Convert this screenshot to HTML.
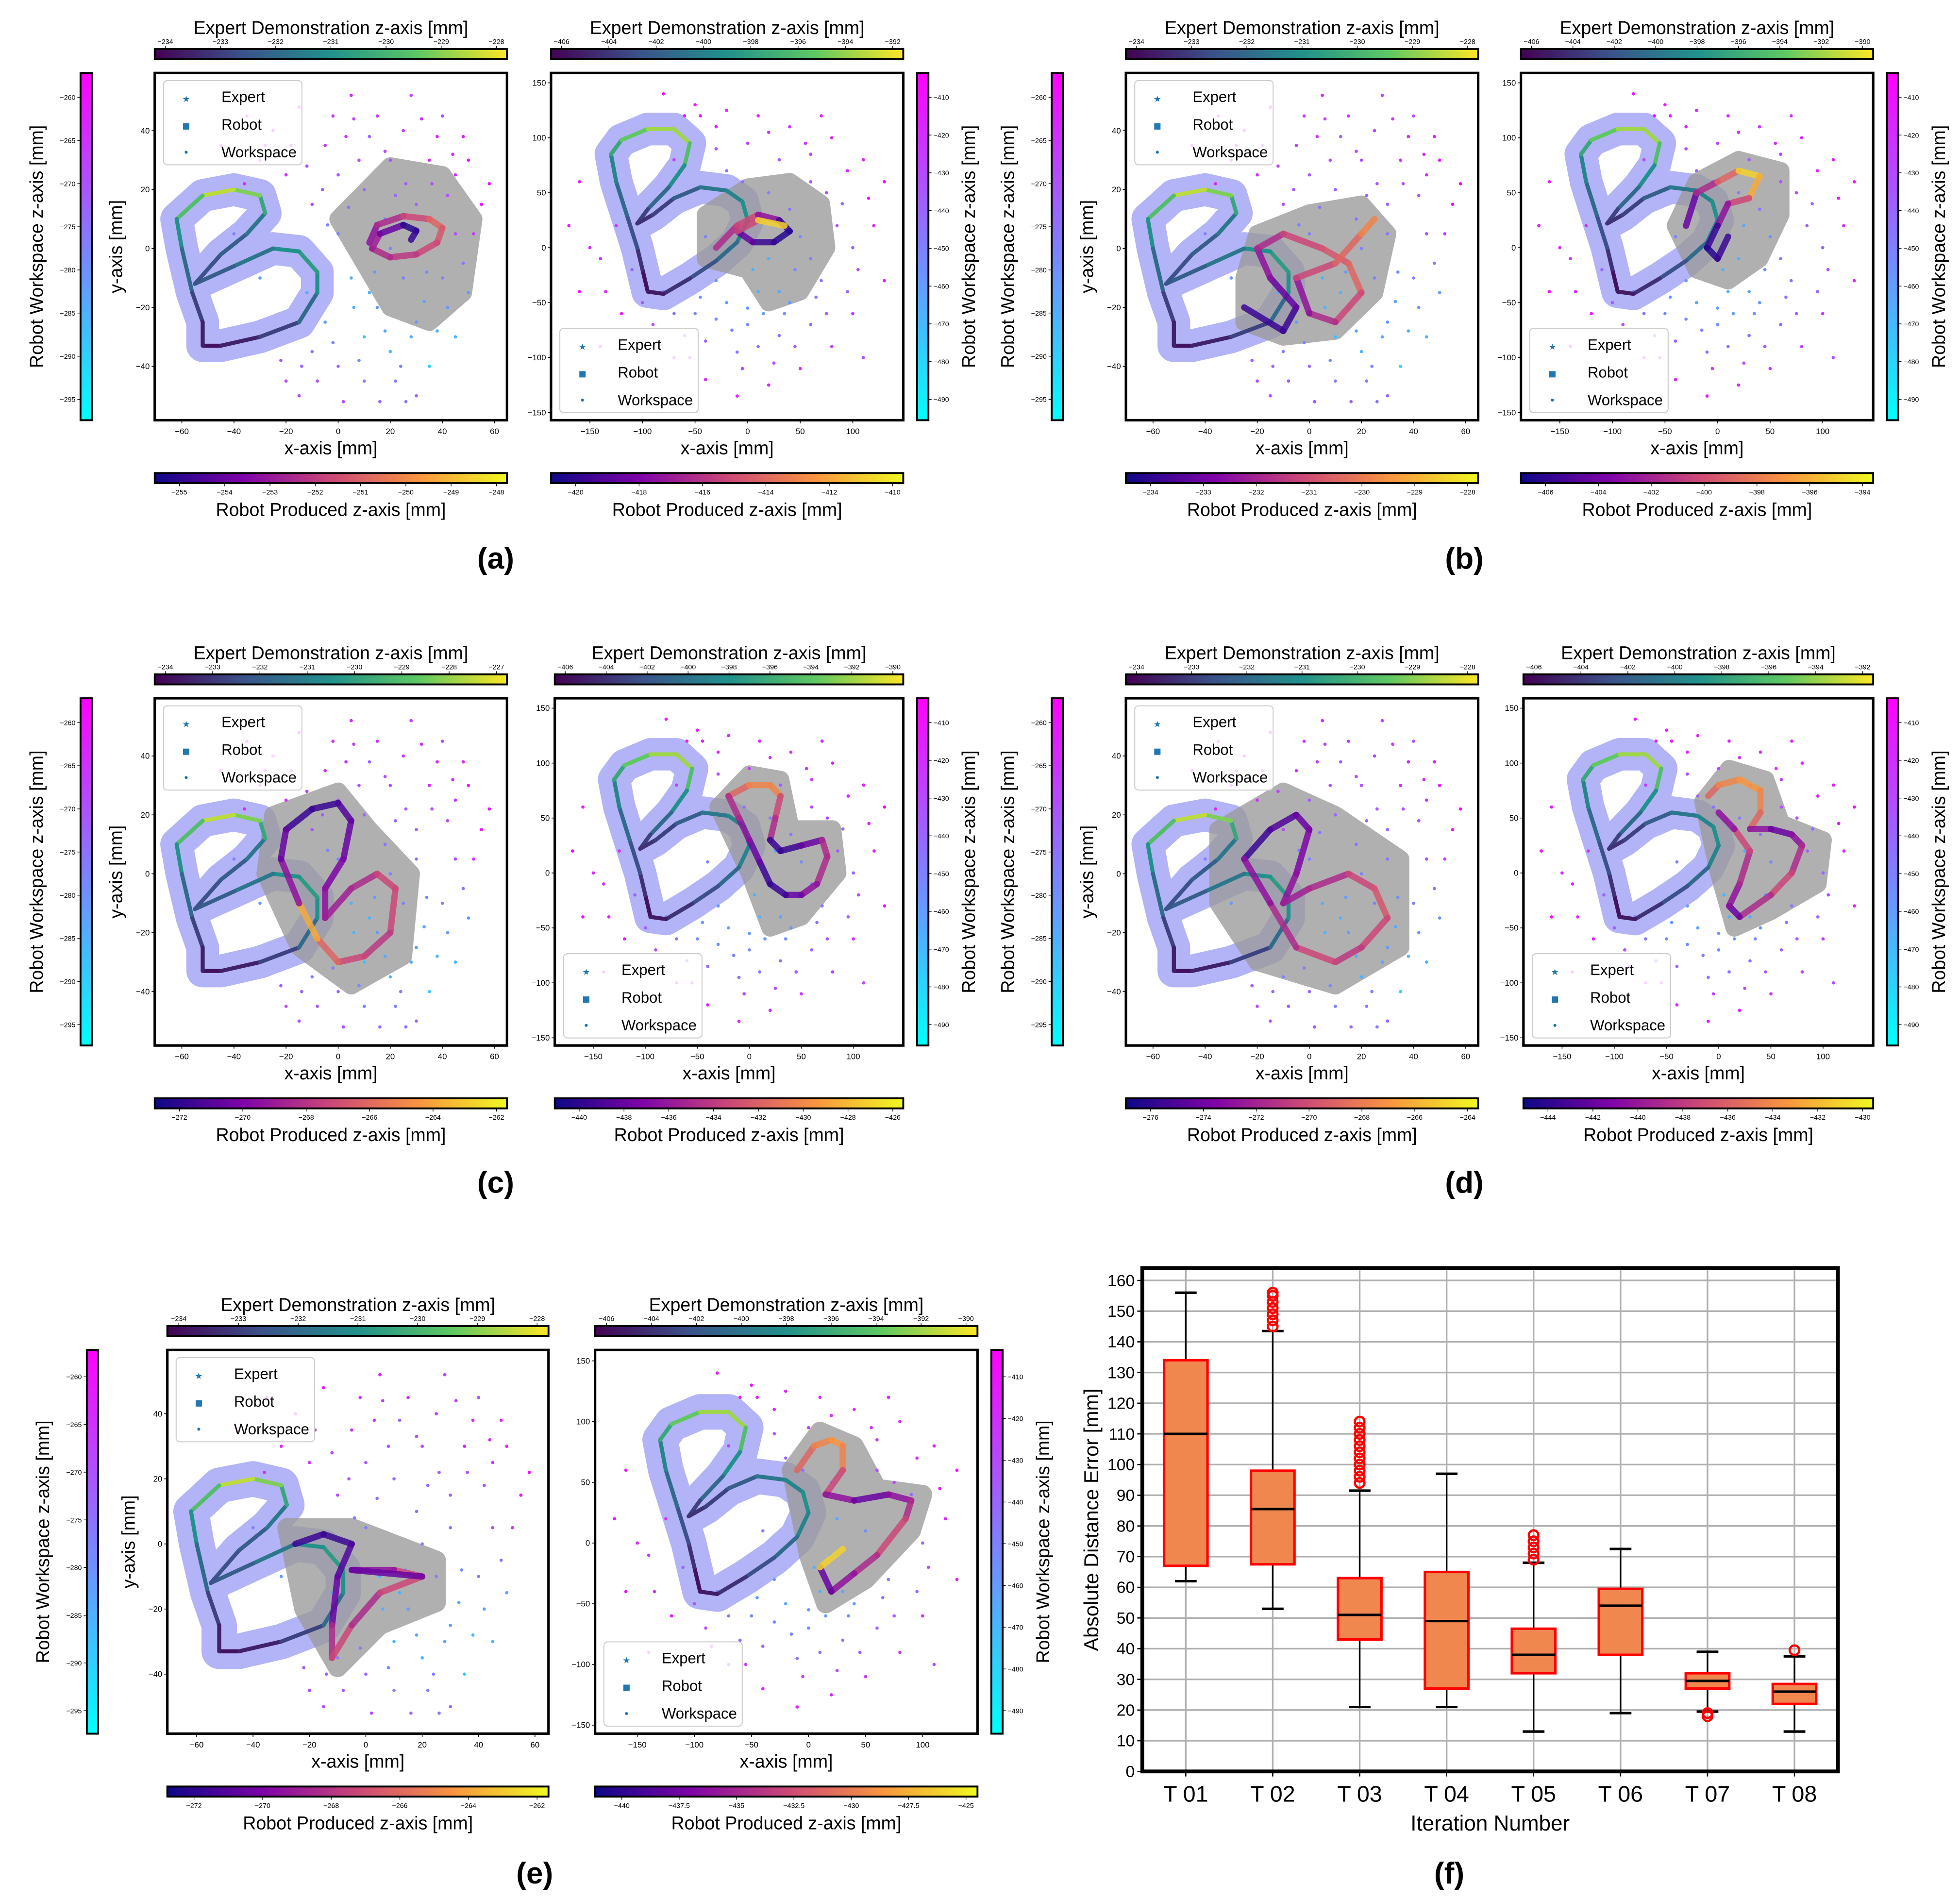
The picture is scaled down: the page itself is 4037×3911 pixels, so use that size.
<!DOCTYPE html>
<html><head><meta charset="utf-8"><style>
html,body{margin:0;padding:0;background:#fff}
svg{display:block}
text{font-family:"Liberation Sans",sans-serif}
</style></head><body>
<svg id="fig" xmlns="http://www.w3.org/2000/svg" width="4037" height="3911" viewBox="0 0 1558 1509.4">
<defs>
<linearGradient id="viridis" x1="0" x2="1" y1="0" y2="0"><stop offset="0" stop-color="#440154"/><stop offset="0.25" stop-color="#3b528b"/><stop offset="0.5" stop-color="#21918c"/><stop offset="0.75" stop-color="#5ec962"/><stop offset="1" stop-color="#fde725"/></linearGradient>
<linearGradient id="plasma" x1="0" x2="1" y1="0" y2="0"><stop offset="0" stop-color="#0d0887"/><stop offset="0.25" stop-color="#7e03a8"/><stop offset="0.5" stop-color="#cc4778"/><stop offset="0.75" stop-color="#f89540"/><stop offset="1" stop-color="#f0f921"/></linearGradient>
<linearGradient id="cool" x1="0" x2="0" y1="1" y2="0"><stop offset="0" stop-color="#00ffff"/><stop offset="1" stop-color="#ff00ff"/></linearGradient>
</defs>
</svg>
<script>
// ---------- chart data ----------
const boxCategories = ["T 01","T 02","T 03","T 04","T 05","T 06","T 07","T 08"];
const boxWhiskerLow = [62,53,21,21,13,19,19.5,13];
const boxQ1 = [67,67.5,43,27,32,38,27,22];
const boxMedian = [110,85.5,51,49,38,54,29.5,26];
const boxQ3 = [134,98,63,65,46.5,59.5,32,28.5];
const boxWhiskerHigh = [156,143.5,91.5,97,68,72.5,39,37.5];
const boxOutliers = [[],[145,147,149,151,153,155,156],[94,96,98,100,102,104,106,108,110,112,114],[],[69,71,73,75,77],[],[18,19],[39.5]];
const boxYTicks = [0,10,20,30,40,50,60,70,80,90,100,110,120,130,140,150,160];

const expertLeft = [[-52,-33,0.05],[-45,-33,0.1],[-30,-30,0.2],[-15,-25,0.35],[-8,-15,0.5],[-8,-8,0.55],[-15,-1,0.5],[-25,0,0.4],[-40,-6,0.3],[-55,-12,0.25],[-45,-2,0.3],[-35,5,0.4],[-28,12,0.6],[-30,18,0.8],[-40,20,0.9],[-52,18,0.7],[-62,10,0.5],[-60,0,0.35],[-56,-15,0.2],[-52,-25,0.1],[-52,-33,0.05]];
const expertRight = [[-95,-40,0.05],[-100,-20,0.15],[-105,0,0.25],[-115,30,0.35],[-125,60,0.45],[-130,85,0.6],[-120,98,0.75],[-95,108,0.85],[-70,108,0.85],[-55,95,0.7],[-60,75,0.5],[-75,55,0.35],[-95,35,0.2],[-105,22,0.15],[-90,30,0.2],[-70,45,0.3],[-45,55,0.4],[-20,52,0.45],[-5,42,0.5],[0,25,0.45],[-10,5,0.35],[-30,-12,0.25],[-55,-28,0.15],[-80,-42,0.08],[-95,-40,0.05]];

const wsLeft = [[-35,45,.9],[-25,40,.85],[-15,48,.9],[-5,35,.8],[5,52,.85],[15,45,.8],[25,40,.75],[35,30,.85],[45,25,.8],[55,15,.95],[50,30,.9],[40,45,.7],[20,30,.7],[10,20,.6],[0,25,.65],[-10,15,.7],[-20,25,.8],[-30,30,.9],[30,15,.6],[45,5,.7],[40,-10,.5],[30,-25,.4],[20,-35,.3],[10,-45,.5],[0,-40,.6],[-10,-35,.5],[-20,-45,.7],[15,-20,.4],[25,-10,.5],[5,-10,.3],[-5,-25,.4],[35,-40,.2],[45,-30,.3],[-30,-10,.4],[-40,5,.5],[-45,35,.9],[0,5,.5],[20,0,.5],[10,-30,.25],[30,-50,.6],[50,-15,.4],[-15,-50,.7],[-25,0,.45],[12,38,.6],[28,52,.75],[8,30,.7],[18,10,.55],[-8,-45,.65],[22,-45,.5],[38,38,.85],[52,5,.8],[-2,45,.8],[33,-18,.35],[-18,35,.75],[6,-20,.3],[26,22,.65],[42,18,.7],[-12,-15,.35],[16,-52,.6],[2,-52,.7],
 [-28,35,.85],[-12,28,.75],[3,38,.8],[18,33,.7],[32,44,.8],[48,38,.9],[22,18,.6],[36,22,.7],[4,14,.55],[-6,20,.65],[14,-8,.4],[28,-30,.35],[38,-28,.3],[-2,-32,.5],[8,-38,.45],[18,-28,.35],[-14,-40,.6],[24,-40,.5],[42,-20,.4],[48,-5,.55],[-36,22,.85],[30,5,.55],[12,-15,.3],[-22,-38,.65],[6,44,.75],[34,-8,.45],[-4,8,.5],[26,-52,.55],[44,32,.85],[58,22,.95]];
const wsRight = [[-80,140,.95],[-50,130,.9],[-20,125,.85],[10,120,.85],[40,110,.8],[80,100,.85],[110,80,.9],[130,60,.95],[120,20,.85],[130,-30,.9],[100,-60,.8],[80,-90,.75],[50,-110,.8],[20,-125,.85],[-10,-135,.9],[-40,-120,.85],[-70,-100,.8],[-120,-60,.9],[-160,-40,.95],[-170,20,.95],[-160,60,.9],[-30,90,.7],[0,95,.75],[30,80,.65],[60,60,.7],[90,40,.6],[100,0,.6],[70,-30,.55],[40,-50,.4],[10,-40,.3],[-20,-50,.35],[-50,-60,.45],[-80,-40,.5],[-110,-20,.6],[-140,-10,.8],[-20,70,.6],[20,50,.5],[50,10,.45],[20,-10,.3],[-30,-30,.4],[0,-70,.45],[30,-80,.55],[60,-70,.6],[-60,-80,.6],[-90,-70,.7],[-40,10,.5],[-70,80,.75],[110,-100,.7],[-140,-90,.9],[70,120,.85],[-10,-95,.55],[15,-60,.4],[45,-20,.45],[85,20,.65],[-100,-50,.65],[-5,60,.55],[25,20,.35],[-55,-100,.75],[95,-40,.6],[-125,20,.8],
 [-60,120,.9],[-30,110,.85],[20,105,.8],[55,95,.8],[95,70,.85],[115,45,.9],[75,50,.7],[40,35,.55],[60,-10,.5],[30,-40,.35],[0,-55,.4],[-15,-75,.5],[-40,-85,.6],[10,-90,.55],[45,-90,.65],[75,-60,.65],[-70,-60,.55],[-30,-65,.45],[5,-20,.3],[35,-60,.45],[-45,-45,.4],[65,-45,.55],[-150,0,.85],[-135,-40,.85],[105,-20,.7],[-5,-110,.75],[25,-105,.7],[-85,-85,.75],[60,85,.75],[-45,120,.9]];

const panels = [
 {id:"a-left",kind:"L",x0:123,y0:58,x1:403,y1:334,cb:64,top:[-234,-233,-232,-231,-230,-229,-228],bot:[-255,-254,-253,-252,-251,-250,-249,-248],vert:[-260,-265,-270,-275,-280,-285,-290,-295],
  robot:[[12,2,.3],[15,8,.4],[25,11,.5],[35,10,.6],[40,7,.55],[38,2,.5],[30,-2,.45],[20,-3,.4],[13,0,.35],[16,5,.2],[25,8,.05],[30,6,.1],[28,3,.9]],blob:[[0,10],[20,28],[40,25],[52,10],[48,-15],[35,-25],[20,-20],[10,-5],[0,10]],legend:"top"},
 {id:"a-right",kind:"R",x0:438,y0:58,x1:718,y1:334,cb:729,top:[-406,-404,-402,-400,-398,-396,-394,-392],bot:[-420,-418,-416,-414,-412,-410],vert:[-410,-420,-430,-440,-450,-460,-470,-480,-490],
  robot:[[-30,0,.4],[-10,20,.5],[10,30,.3],[30,25,.1],[40,15,.05],[25,5,.1],[5,5,.2],[-10,15,.5],[10,25,.9],[35,20,.8]],blob:[[-40,-10],[-40,30],[0,55],[40,60],[70,40],[75,0],[50,-40],[20,-50],[0,-20],[-40,-10]],legend:"bottom"},
 {id:"b-left",kind:"L",x0:895,y0:58,x1:1175,y1:334,cb:836,top:[-234,-233,-232,-231,-230,-229,-228],bot:[-234,-233,-232,-231,-230,-229,-228],vert:[-260,-265,-270,-275,-280,-285,-290,-295],
  robot:[[-25,-20,.1],[-10,-28,.1],[-5,-20,.2],[-15,-10,.3],[-20,0,.4],[-10,5,.5],[5,0,.55],[15,-5,.6],[20,-15,.5],[10,-25,.4],[0,-22,.3],[-5,-10,.5],[10,-5,.6],[20,5,.7],[25,10,.9]],blob:[[-25,-25],[-10,-30],[10,-28],[25,-15],[30,5],[20,15],[0,12],[-20,5],[-25,-10]],legend:"top"},
 {id:"b-right",kind:"R",x0:1209,y0:58,x1:1489,y1:334,cb:1500,top:[-406,-404,-402,-400,-398,-396,-394,-392,-390],bot:[-406,-404,-402,-400,-398,-396,-394],vert:[-410,-420,-430,-440,-450,-460,-470,-480,-490],
  robot:[[-30,20,.2],[-20,50,.4],[0,60,.6],[20,70,.9],[40,65,.8],[30,45,.5],[10,40,.3],[0,20,.1],[-10,0,.05],[0,-10,.1],[10,10,.3]],blob:[[-40,20],[-20,60],[20,80],[60,70],[60,30],[40,-10],[10,-30],[-20,-20],[-40,20]],legend:"bottom"},
 {id:"c-left",kind:"L",x0:123,y0:555,x1:403,y1:831,cb:64,top:[-234,-233,-232,-231,-230,-229,-228,-227],bot:[-272,-270,-268,-266,-264,-262],vert:[-260,-265,-270,-275,-280,-285,-290,-295],
  robot:[[-20,15,.1],[-10,22,.1],[0,24,.15],[5,18,.2],[2,5,.25],[-5,-5,.3],[-5,-15,.35],[5,-5,.4],[15,0,.5],[22,-5,.5],[20,-20,.45],[10,-28,.5],[0,-30,.6],[-8,-22,.8],[-15,-10,.3],[-22,5,.2],[-20,15,.1]],blob:[[-25,20],[0,28],[12,15],[28,0],[25,-28],[5,-38],[-15,-25],[-28,0],[-25,20]],legend:"top"},
 {id:"c-right",kind:"R",x0:441,y0:555,x1:718,y1:831,cb:729,top:[-406,-404,-402,-400,-398,-396,-394,-392,-390],bot:[-440,-438,-436,-434,-432,-430,-428,-426],vert:[-410,-420,-430,-440,-450,-460,-470,-480,-490],
  robot:[[-20,70,.6],[0,80,.7],[20,80,.7],[30,70,.5],[25,50,.4],[20,30,.1],[30,20,.1],[50,25,.2],[70,30,.4],[75,15,.4],[65,-10,.3],[50,-20,.2],[35,-20,.1],[20,-10,.1],[10,10,.2],[0,30,.3],[-10,50,.4],[-20,70,.6]],blob:[[-30,60],[0,90],[30,85],[40,40],[80,40],[85,0],[50,-40],[20,-50],[0,0],[-20,40],[-30,60]],legend:"bottom"},
 {id:"d-left",kind:"L",x0:895,y0:555,x1:1175,y1:831,cb:836,top:[-234,-233,-232,-231,-230,-229,-228],bot:[-276,-274,-272,-270,-268,-266,-264],vert:[-260,-265,-270,-275,-280,-285,-290,-295],
  robot:[[-25,5,.1],[-15,15,.15],[-5,20,.2],[0,15,.25],[-5,0,.3],[-10,-10,.35],[0,-5,.4],[15,0,.5],[25,-5,.55],[30,-15,.5],[20,-25,.45],[10,-30,.5],[-5,-25,.4],[-15,-10,.3],[-25,5,.1]],blob:[[-35,15],[-10,28],[10,20],[35,5],[35,-25],[10,-38],[-20,-30],[-35,-10],[-35,15]],legend:"top"},
 {id:"d-right",kind:"R",x0:1211,y0:555,x1:1489,y1:831,cb:1500,top:[-406,-404,-402,-400,-398,-396,-394,-392],bot:[-444,-442,-440,-438,-436,-434,-432,-430],vert:[-410,-420,-430,-440,-450,-460,-470,-480,-490],
  robot:[[-10,70,.6],[0,80,.7],[20,85,.75],[40,75,.7],[40,55,.6],[30,40,.3],[50,40,.2],[70,35,.3],[80,25,.4],[70,0,.5],[50,-20,.4],[20,-40,.2],[10,-30,.3],[20,-10,.4],[30,20,.5],[15,40,.3],[0,55,.4]],blob:[[-15,65],[10,95],[45,85],[60,45],[100,30],[95,-10],[50,-35],[15,-50],[0,0],[-15,65]],legend:"bottom"},
 {id:"e-left",kind:"L",x0:133,y0:1073,x1:436,y1:1378,cb:69,top:[-234,-233,-232,-231,-230,-229,-228],bot:[-272,-270,-268,-266,-264,-262],vert:[-260,-265,-270,-275,-280,-285,-290,-295],
  robot:[[-25,0,.1],[-15,3,.1],[-5,0,.15],[-10,-10,.2],[-12,-25,.4],[-12,-35,.5],[-5,-25,.4],[5,-15,.5],[20,-10,.5],[10,-8,.3],[-5,-8,.2],[20,-10,.4]],blob:[[-28,5],[-5,5],[25,-5],[25,-18],[5,-25],[-10,-38],[-22,-20],[-28,5]],legend:"top"},
 {id:"e-right",kind:"R",x0:473,y0:1073,x1:777,y1:1378,cb:788,top:[-406,-404,-402,-400,-398,-396,-394,-392,-390],bot:[-440,-437.5,-435,-432.5,-430,-427.5,-425],vert:[-410,-420,-430,-440,-450,-460,-470,-480,-490],
  robot:[[-10,60,.6],[5,80,.7],[20,85,.75],[30,80,.7],[30,60,.5],[15,40,.3],[40,35,.2],[70,40,.3],[90,35,.4],[85,20,.5],[60,-10,.4],[40,-25,.3],[20,-40,.2],[10,-20,.9],[30,-5,.3]],blob:[[-15,60],[10,92],[40,80],[60,45],[100,40],[90,10],[50,-30],[15,-50],[0,-10],[-15,60]],legend:"bottom"}
];
const panelLabels = [["(a)",394,452],["(b)",1164,452],["(c)",394,948],["(d)",1164,948],["(e)",425,1497],["(f)",1152,1497]];

// ---------- helpers ----------
const NS="http://www.w3.org/2000/svg";
const svg=document.getElementById("fig");
function mk(tag,attrs,parent){const e=document.createElementNS(NS,tag);for(const k in attrs)e.setAttribute(k,attrs[k]);(parent||svg).appendChild(e);return e;}
function nm(e,n,i){
  
  
  return e;}
function txt(s,x,y,size,parent,extra){const t=mk("text",Object.assign({x:x,y:y,"font-size":size},extra||{}),parent);t.textContent=s;return t;}
function lerpC(stops,t){t=Math.max(0,Math.min(1,t));const n=stops.length-1;const i=Math.min(n-1,Math.floor(t*n));const f=t*n-i;const a=stops[i],b=stops[i+1];return "rgb("+[0,1,2].map(k=>Math.round(a[k]+(b[k]-a[k])*f)).join(",")+")";}
const VIR=[[68,1,84],[59,82,139],[33,145,140],[94,201,98],[253,231,37]];
const PLA=[[13,8,135],[126,3,168],[204,71,120],[248,149,64],[240,249,33]];
const COOL=[[0,255,255],[255,0,255]];
const fmt=v=>(v<0?"\u2212"+Math.abs(v):""+v);

function drawPanel(p){
  const g=mk("g",{});
  nm(g,"scatter-panel-"+p.id);
  const L=p.kind==="L";
  const xd=L?[-70.4,64.8]:[-187,148], yd=L?[-58.3,59.6]:[-157,159];
  const sx=v=>p.x0+(v-xd[0])/(xd[1]-xd[0])*(p.x1-p.x0);
  const sy=v=>p.y1-(v-yd[0])/(yd[1]-yd[0])*(p.y1-p.y0);
  const clipId="clip-"+p.id;
  const cp=mk("clipPath",{id:clipId},g);mk("rect",{x:p.x0,y:p.y0,width:p.x1-p.x0,height:p.y1-p.y0},cp);
  const inner=mk("g",{"clip-path":"url(#"+clipId+")"},g);
  const exp=L?expertLeft:expertRight, ws=L?wsLeft:wsRight;
  const kx=(p.x1-p.x0)/280;
  const blue=mk("path",{d:"M"+exp.map(q=>sx(q[0])+","+sy(q[1])).join("L"),fill:"none",stroke:"#b3b3f7","stroke-width":26*kx,"stroke-linejoin":"round","stroke-linecap":"round"},inner);
  nm(blue,"expert-tolerance-region");
  const gg=mk("g",{opacity:0.78},inner);
  const gr=mk("path",{d:"M"+p.blob.map(q=>sx(q[0])+","+sy(q[1])).join("L")+"Z",fill:"#9a9a9a",stroke:"#9a9a9a","stroke-width":14*kx,"stroke-linejoin":"round"},gg);
  nm(gr,"robot-tolerance-region");
  ws.forEach(q=>{const c=mk("circle",{cx:sx(q[0]),cy:sy(q[1]),r:1.3,fill:lerpC(COOL,q[2])},inner);
    
    });
  for(let i=0;i<exp.length-1;i++){const s=mk("line",{x1:sx(exp[i][0]),y1:sy(exp[i][1]),x2:sx(exp[i+1][0]),y2:sy(exp[i+1][1]),stroke:lerpC(VIR,exp[i][2]),"stroke-width":3.2,"stroke-linecap":"round"},inner);
    
    }
  const rb=p.robot;
  for(let i=0;i<rb.length-1;i++){const s=mk("line",{x1:sx(rb[i][0]),y1:sy(rb[i][1]),x2:sx(rb[i+1][0]),y2:sy(rb[i+1][1]),stroke:lerpC(PLA,rb[i][2]),"stroke-width":5,"stroke-linecap":"round","stroke-opacity":0.85},inner);
    
    }
  const fr=mk("rect",{x:p.x0,y:p.y0,width:p.x1-p.x0,height:p.y1-p.y0,fill:"none",stroke:"#000","stroke-width":2},g);
  nm(fr,"plot-frame");
  const xt=L?[-60,-40,-20,0,20,40,60]:[-150,-100,-50,0,50,100];
  const yt=L?[-40,-20,0,20,40]:[-150,-100,-50,0,50,100,150];
  xt.forEach(v=>{mk("line",{x1:sx(v),x2:sx(v),y1:p.y1,y2:p.y1+2.5,stroke:"#000","stroke-width":0.6},g);
    const t=txt(fmt(v),sx(v),p.y1+11,6.5,g,{"text-anchor":"middle","font-family":"Liberation Serif"});nm(t,"x-tick-label");});
  yt.forEach(v=>{mk("line",{x1:p.x0-2.5,x2:p.x0,y1:sy(v),y2:sy(v),stroke:"#000","stroke-width":0.6},g);
    const t=txt(fmt(v),p.x0-4,sy(v)+2.2,6.5,g,{"text-anchor":"end","font-family":"Liberation Serif"});nm(t,"y-tick-label");});
  const cx=(p.x0+p.x1)/2;
  nm(txt("x-axis [mm]",cx,p.y1+27,14.5,g,{"text-anchor":"middle"}),"x-axis-title");
  if(L){nm(txt("y-axis [mm]",0,0,14.5,g,{"text-anchor":"middle",transform:"translate("+(p.x0-26)+","+((p.y0+p.y1)/2)+") rotate(-90)"}),"y-axis-title");}
  const w=p.x1-p.x0;
  const tb=mk("rect",{x:p.x0,y:p.y0-19,width:w,height:8,fill:"url(#viridis)",stroke:"#000","stroke-width":1.5},g);nm(tb,"expert-colorbar");
  p.top.forEach((v,i)=>{const x=p.x0+w*(0.03+0.94*i/Math.max(1,p.top.length-1));mk("line",{x1:x,x2:x,y1:p.y0-19,y2:p.y0-21.5,stroke:"#000","stroke-width":0.5},g);
    nm(txt(fmt(v),x,p.y0-23,5.5,g,{"text-anchor":"middle","font-family":"Liberation Serif"}),"colorbar-tick-label");});
  nm(txt("Expert Demonstration z-axis [mm]",cx,p.y0-31,14.5,g,{"text-anchor":"middle"}),"expert-colorbar-title");
  const bb=mk("rect",{x:p.x0,y:p.y1+42,width:w,height:8,fill:"url(#plasma)",stroke:"#000","stroke-width":1.5},g);nm(bb,"robot-colorbar");
  p.bot.forEach((v,i)=>{const x=p.x0+w*(0.07+0.9*i/Math.max(1,p.bot.length-1));mk("line",{x1:x,x2:x,y1:p.y1+50,y2:p.y1+52.5,stroke:"#000","stroke-width":0.5},g);
    nm(txt(fmt(v),x,p.y1+59,5.5,g,{"text-anchor":"middle","font-family":"Liberation Serif"}),"colorbar-tick-label");});
  nm(txt("Robot Produced z-axis [mm]",cx,p.y1+76,14.5,g,{"text-anchor":"middle"}),"robot-colorbar-title");
  const h=p.y1-p.y0;
  const vb=mk("rect",{x:p.cb,y:p.y0,width:9,height:h,fill:"url(#cool)",stroke:"#000","stroke-width":1.5},g);nm(vb,"workspace-colorbar");
  p.vert.forEach((v,i)=>{const y=p.y0+h*(0.07+0.87*i/Math.max(1,p.vert.length-1));
    if(L){mk("line",{x1:p.cb,x2:p.cb-2.5,y1:y,y2:y,stroke:"#000","stroke-width":0.5},g);
      nm(txt(fmt(v),p.cb-4,y+2,5.5,g,{"text-anchor":"end","font-family":"Liberation Serif"}),"colorbar-tick-label");}
    else{mk("line",{x1:p.cb+9,x2:p.cb+11.5,y1:y,y2:y,stroke:"#000","stroke-width":0.5},g);
      nm(txt(fmt(v),p.cb+13,y+2,5.5,g,{"font-family":"Liberation Serif"}),"colorbar-tick-label");}});
  const lx=L?p.cb-30:p.cb+46;
  nm(txt("Robot Workspace z-axis [mm]",0,0,14.5,g,{"text-anchor":"middle",transform:"translate("+lx+","+((p.y0+p.y1)/2)+") rotate(-90)"}),"workspace-colorbar-title");
  const ly=p.legend==="top"?p.y0+6:p.y1-73;
  const lg=mk("g",{},g);nm(lg,"legend");
  mk("rect",{x:p.x0+7,y:ly,width:110,height:67,rx:3,fill:"#fff","fill-opacity":0.8,stroke:"#ccc","stroke-width":0.8},lg);
  const mx=p.x0+25;
  nm(txt("\u2605",mx,ly+17,7,lg,{"text-anchor":"middle",fill:"#1f77b4"}),"legend-marker-expert");
  nm(txt("Expert",p.x0+53,ly+17,12,lg),"legend-entry-expert");
  const sq=mk("rect",{x:mx-2.5,y:ly+34,width:5,height:5,fill:"#1f77b4"},lg);nm(sq,"legend-marker-robot");
  nm(txt("Robot",p.x0+53,ly+39,12,lg),"legend-entry-robot");
  const dt=mk("circle",{cx:mx,cy:ly+57,r:1.2,fill:"#1f77b4"},lg);nm(dt,"legend-marker-workspace");
  nm(txt("Workspace",p.x0+53,ly+61,12,lg),"legend-entry-workspace");
}
panels.forEach(drawPanel);

// ---------- box plot ----------
(function(){
  const g=mk("g",{});nm(g,"box-plot");
  const X0=908,X1=1461,Y0=1008,Y1=1408,ymax=164;
  const sy=v=>Y1-v/ymax*(Y1-Y0);
  const step=(X1-X0)/8;
  const sx=i=>X0+step*(i+0.5);
  boxYTicks.forEach(v=>{const l=mk("line",{x1:X0,x2:X1,y1:sy(v),y2:sy(v),stroke:"#b0b0b0","stroke-width":1.3},g);nm(l,"y-gridline");
    mk("line",{x1:X0-4,x2:X0,y1:sy(v),y2:sy(v),stroke:"#000","stroke-width":1},g);
    nm(txt(""+v,X0-6,sy(v)+4.5,13,g,{"text-anchor":"end"}),"y-tick-label");});
  boxCategories.forEach((c,i)=>{const l=mk("line",{x1:sx(i),x2:sx(i),y1:Y0,y2:Y1,stroke:"#b0b0b0","stroke-width":1.3},g);nm(l,"x-gridline");
    mk("line",{x1:sx(i),x2:sx(i),y1:Y1,y2:Y1+4,stroke:"#000","stroke-width":1},g);
    nm(txt(c,sx(i),Y1+24,18,g,{"text-anchor":"middle"}),"x-tick-label");});
  const bw=step*0.5;
  boxCategories.forEach((c,i)=>{
    const x=sx(i);
    const wl=mk("line",{x1:x,x2:x,y1:sy(boxWhiskerLow[i]),y2:sy(boxQ1[i]),stroke:"#000","stroke-width":1.3},g);nm(wl,"whisker-low-"+c);
    const wh=mk("line",{x1:x,x2:x,y1:sy(boxQ3[i]),y2:sy(boxWhiskerHigh[i]),stroke:"#000","stroke-width":1.3},g);nm(wh,"whisker-high-"+c);
    mk("line",{x1:x-bw/4,x2:x+bw/4,y1:sy(boxWhiskerLow[i]),y2:sy(boxWhiskerLow[i]),stroke:"#000","stroke-width":2},g);
    mk("line",{x1:x-bw/4,x2:x+bw/4,y1:sy(boxWhiskerHigh[i]),y2:sy(boxWhiskerHigh[i]),stroke:"#000","stroke-width":2},g);
    const b=mk("rect",{x:x-bw/2,y:sy(boxQ3[i]),width:bw,height:sy(boxQ1[i])-sy(boxQ3[i]),fill:"#f0874e",stroke:"#ff0000","stroke-width":2},g);nm(b,"box-"+c);
    const m=mk("line",{x1:x-bw/2,x2:x+bw/2,y1:sy(boxMedian[i]),y2:sy(boxMedian[i]),stroke:"#000","stroke-width":2},g);nm(m,"median-"+c);
    boxOutliers[i].forEach(v=>{const o=mk("circle",{cx:x,cy:sy(v),r:3.8,fill:"none",stroke:"#ff0000","stroke-width":1.8},g);
      
      });
  });
  const f=mk("rect",{x:X0,y:Y0,width:X1-X0,height:Y1-Y0,fill:"none",stroke:"#000","stroke-width":3},g);nm(f,"box-plot-frame");
  nm(txt("Absolute Distance Error [mm]",0,0,16,g,{"text-anchor":"middle",transform:"translate(873,"+((Y0+Y1)/2)+") rotate(-90)"}),"y-axis-title");
  nm(txt("Iteration Number",(X0+X1)/2,1455,17,g,{"text-anchor":"middle"}),"x-axis-title");
})();

panelLabels.forEach(l=>{nm(txt(l[0],l[1],l[2],24,svg,{"text-anchor":"middle","font-family":"Liberation Serif","font-weight":"bold"}),"panel-label");});
</script>
</body></html>
